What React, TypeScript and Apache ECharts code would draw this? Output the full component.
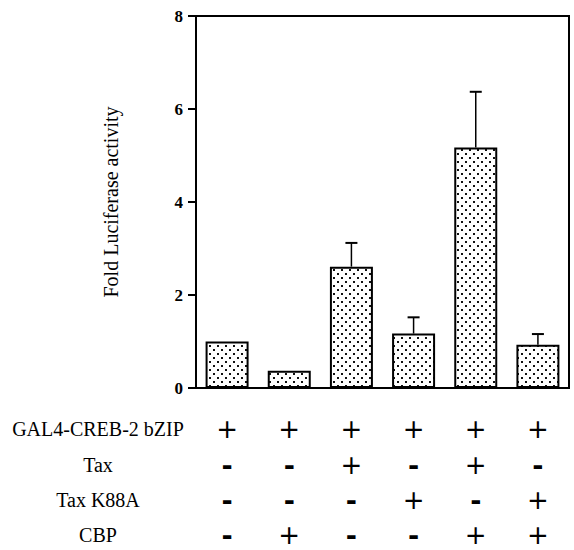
import { useEffect, useRef } from "react";
import * as echarts from "echarts";

// Transfection groups (one bar per lane)
const groups = ["1", "2", "3", "4", "5", "6"];
// Mean fold luciferase activity per lane
const foldActivity = [1.0, 0.37, 2.61, 1.17, 5.17, 0.93];
// Upper end of the error bar per lane (null = no error bar drawn)
const errorTop: (number | null)[] = [null, null, 3.12, 1.52, 6.37, 1.16];
// Y axis ticks
const yTicks = [0, 2, 4, 6, 8];

// Construct table below the axis
const rowLabels = ["GAL4-CREB-2 bZIP", "Tax", "Tax K88A", "CBP"];
const gal4Creb2 = [true, true, true, true, true, true];
const tax = [false, false, true, false, true, false];
const taxK88A = [false, false, false, true, false, true];
const cbp = [false, true, false, false, true, true];
const tableRows = [gal4Creb2, tax, taxK88A, cbp];

const SERIF = "'Liberation Serif', 'DejaVu Serif', serif";
const ROW_Y = [429, 465, 500, 535];

function makeDotPattern(): string {
  const c = document.createElement("canvas");
  c.width = 8;
  c.height = 8;
  const ctx = c.getContext("2d")!;
  ctx.fillStyle = "#ffffff";
  ctx.fillRect(0, 0, 8, 8);
  ctx.fillStyle = "#111111";
  ctx.fillRect(1, 1, 2, 2);
  ctx.fillRect(5, 5, 2, 2);
  return c.toDataURL();
}

export default function App() {
  const ref = useRef<HTMLDivElement>(null);

  useEffect(() => {
    if (!ref.current) return;
    const chart = echarts.init(ref.current, null, { renderer: "svg" });
    const pattern = makeDotPattern();

    const errData = groups
      .map((_, i) => (errorTop[i] == null ? null : [i, foldActivity[i], errorTop[i]]))
      .filter((d) => d !== null);

    chart.setOption({
      animation: false,
      backgroundColor: "#ffffff",
      grid: {
        left: 196,
        right: 5,
        top: 16,
        bottom: 162,
        show: true,
        borderColor: "#000",
        borderWidth: 2,
        outerBoundsMode: "none",
      },
      xAxis: {
        type: "category",
        data: groups,
        axisLine: { lineStyle: { color: "#000", width: 2 } },
        axisTick: { show: false },
        axisLabel: { show: false },
      },
      yAxis: {
        type: "value",
        min: 0,
        max: 8,
        interval: 2,
        name: "Fold Luciferase activity",
        nameLocation: "middle",
        nameGap: 75,
        nameTextStyle: { fontFamily: SERIF, fontSize: 20, color: "#000" },
        axisLine: { show: true, lineStyle: { color: "#000", width: 2 } },
        axisTick: { show: true, length: 8, lineStyle: { color: "#000", width: 2 } },
        splitLine: { show: false },
        axisLabel: {
          margin: 13,
          fontFamily: SERIF,
          fontSize: 17,
          fontWeight: "bold",
          color: "#000",
          formatter: (v: number) => (yTicks.includes(v) ? String(v) : ""),
        },
      },
      series: [
        {
          type: "bar",
          data: foldActivity,
          barWidth: 43,
          itemStyle: {
            color: { image: pattern, repeat: "repeat" },
            borderColor: "#000",
            borderWidth: 2,
          },
          z: 2,
        },
        {
          type: "custom",
          data: errData,
          z: 3,
          renderItem: (_params: any, api: any) => {
            const top = api.coord([api.value(0), api.value(2)]);
            const base = api.coord([api.value(0), api.value(1)]);
            return {
              type: "group",
              children: [
                {
                  type: "line",
                  shape: { x1: top[0], y1: base[1], x2: top[0], y2: top[1] },
                  style: { stroke: "#000", lineWidth: 1.5 },
                },
                {
                  type: "line",
                  shape: { x1: top[0] - 6, y1: top[1], x2: top[0] + 6, y2: top[1] },
                  style: { stroke: "#000", lineWidth: 2 },
                },
              ],
            };
          },
        },
      ],
    });

    // Construct table: row labels plus a +/- mark under every lane
    const labels = rowLabels.map((label, i) => ({
      type: "text",
      x: 98,
      y: ROW_Y[i],
      style: {
        text: label,
        fontFamily: SERIF,
        fontSize: 20,
        lineHeight: 22,
        fill: "#000",
        align: "center",
        verticalAlign: "middle",
      },
    }));
    const marks: any[] = [];
    tableRows.forEach((row, r) => {
      row.forEach((present, i) => {
        const x = chart.convertToPixel({ xAxisIndex: 0 }, groups[i]) as number;
        marks.push({
          type: "text",
          x,
          y: ROW_Y[r],
          style: present
            ? {
                text: "+",
                fontFamily: "'DejaVu Sans', sans-serif",
                fontSize: 26,
                lineHeight: 26,
                fill: "#000",
                align: "center",
                verticalAlign: "middle",
              }
            : {
                text: "-",
                fontFamily: "'DejaVu Sans', sans-serif",
                fontWeight: "bold",
                fontSize: 27,
                lineHeight: 26,
                fill: "#000",
                align: "center",
                verticalAlign: "middle",
              },
        });
      });
    });
    chart.setOption({ graphic: [...labels, ...marks] });

    return () => chart.dispose();
  }, []);

  return (
    <div
      ref={ref}
      style={{ position: "absolute", left: 0, top: 0, width: 574, height: 550 }}
    />
  );
}
